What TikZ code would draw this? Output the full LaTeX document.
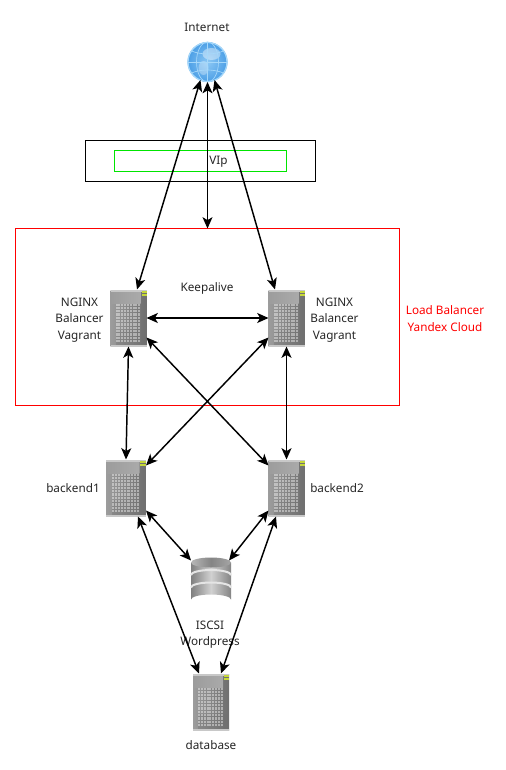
\documentclass[tikz,border=0pt]{standalone}
\usepackage{fontspec}
\setmainfont{Noto Sans}
\usetikzlibrary{arrows.meta,shadings}
\definecolor{srvdark}{HTML}{707070}
\definecolor{srvmid}{HTML}{9C9C9C}
\definecolor{srvlight}{HTML}{C8C8C8}
\definecolor{led}{HTML}{C6D83A}
\definecolor{globeblue}{HTML}{4C9FE6}
\definecolor{globelight}{HTML}{A6D8FA}
\tikzset{
  lbl/.style={font=\fontsize{8.8pt}{12.2pt}\selectfont,align=center,inner sep=0pt,text=black!85},
  redlbl/.style={lbl,text=red},
  srv/.style={minimum width=36*0.75pt,minimum height=57*0.75pt,inner sep=0pt,outer sep=0pt},
  srvwide/.style={srv,minimum width=40*0.75pt},
  dbicon/.style={minimum width=40*0.75pt,minimum height=47*0.75pt,inner sep=0pt,outer sep=0pt},
  globeicon/.style={circle,minimum size=40*0.75pt,inner sep=0pt,outer sep=0pt},
  conn/.style={{Stealth[length=8.5pt,width=7.5pt,inset=2.2pt]}-{Stealth[length=8.5pt,width=7.5pt,inset=2.2pt]},line width=1.1pt,black},
  thinconn/.style={conn,line width=0.75pt},
  outerbox/.style={draw=black,line width=0.75pt},
  greenbox/.style={draw=green!90!black,line width=0.75pt},
  redbox/.style={draw=red,line width=0.75pt}
}
% server artwork, drawn around a named node; #2 = horizontal scale
\newcommand{\serverart}[2]{%
  \begin{scope}[shift={(#1.center)},xscale=#2]
    \shade[left color=srvmid,right color=srvdark] (-18,-28) rectangle (18,28);
    \shade[left color=srvmid,right color=srvlight!85!black] (-18,-27) rectangle (12,-15);
    \fill[srvlight] (-18,-28.5) rectangle (18,-26);
    \fill[srvdark,opacity=.35] (12,-26) rectangle (18,28);
    \fill[srvdark,opacity=.35] (-13,12) rectangle (18,28);
    \fill[srvlight] (-18,27) rectangle (18,28.5);
    \foreach \cx in {0,...,8}{\foreach \cy in {0,...,11}{
      \fill[white,opacity=.42] (-13+\cx*2.85,-14.5+\cy*3.3) rectangle ++(2,2.3);}}
    \fill[led] (13,-27) rectangle (18,-25.5);
    \fill[led] (13,-24) rectangle (18,-22.5);
  \end{scope}}
\newcommand{\dbart}[1]{%
  \begin{scope}[shift={(#1.center)}]
    \shade[left color=black!50,right color=black!48,middle color=black!18]
      (-20,-18.5) -- (-20,18.5) arc[x radius=20,y radius=5,start angle=180,end angle=360] -- (20,-18.5) -- cycle;
    \foreach \yy in {-6,6.5}{
      \draw[white!90!black,line width=1.5pt] (-20,\yy) arc[x radius=20,y radius=5,start angle=180,end angle=360];}
    \shade[left color=black!28,right color=black!35,middle color=black!48]
      (0,-18.5) ellipse[x radius=20,y radius=5];
  \end{scope}}
\newcommand{\globeart}[1]{%
  \begin{scope}[shift={(#1.center)}]
    \shade[inner color=globelight!70!globeblue,outer color=globeblue] (0,0) circle[radius=20];
    \fill[white,opacity=.4] (4,-8) ellipse[x radius=9,y radius=6];
    \fill[white,opacity=.3] (-4,6) ellipse[x radius=5,y radius=7];
    \draw[globelight,line width=0.9pt] (0,0) circle[radius=19.5];
    \draw[globelight,line width=0.5pt] (-20,0) -- (20,0) (0,-20) -- (0,20);
    \draw[globelight,line width=0.5pt] (0,0) ellipse[x radius=11,y radius=20];
    \draw[globelight,line width=0.5pt] (-16,-11) .. controls (-6,-7) and (6,-7) .. (16,-11);
    \draw[globelight,line width=0.5pt] (-16,11) .. controls (-6,7) and (6,7) .. (16,11);
  \end{scope}}
\begin{document}
\begin{tikzpicture}[x=0.75pt,y=-0.75pt]
  \useasboundingbox[fill=white] (0,0) rectangle (506,770);

  % frames
  \draw[outerbox] (85.5,140.5) rectangle (315.5,181.5);
  \draw[greenbox] (114.5,150.5) rectangle (286.5,171.5);
  \node[minimum width=384*0.75pt,minimum height=177*0.75pt,inner sep=0pt,outer sep=0pt,redbox] (lb) at (207.5,317) {};

  % icons
  \node[globeicon] (inet) at (207.5,62) {};
  \node[srv] (n1) at (128.5,318) {};
  \node[srv] (n2) at (286.5,318) {};
  \node[srvwide] (b1) at (126,488) {};
  \node[srv] (b2) at (286.5,488) {};
  \node[dbicon] (iscsi) at (211,581) {};
  \node[srv] (db) at (211,702) {};
  \globeart{inet}
  \serverart{n1}{1}
  \serverart{n2}{1}
  \serverart{b1}{1.11}
  \serverart{b2}{1}
  \dbart{iscsi}
  \serverart{db}{1}

  % labels
  \node[lbl] (tinet) at (207,27.5) {Internet};
  \node[lbl] (tvip) at (218.5,162) {VIp};
  \node[lbl] (tkeep) at (207,288) {Keepalive};
  \node[lbl] (tn1) at (79.5,320) {NGINX\\Balancer\\Vagrant};
  \node[lbl] (tn2) at (334.5,320) {NGINX\\Balancer\\Vagrant};
  \node[redlbl] (tlb) at (445,318.5) {Load Balancer\\Yandex Cloud};
  \node[lbl] (tb1) at (73,488) {backend1};
  \node[lbl] (tb2) at (337,488) {backend2};
  \node[lbl] (tiscsi) at (210,635) {ISCSI\\Wordpress};
  \node[lbl] (tdb) at (211,745) {database};

  % connectors
  \draw[conn] ([xshift=-7*0.75pt,yshift=2*0.75pt]inet.south) -- ([xshift=8.5*0.75pt]n1.north);
  \draw[conn] ([xshift=7*0.75pt,yshift=2*0.75pt]inet.south) -- ([xshift=-11.5*0.75pt]n2.north);
  \draw[thinconn] (inet.south) -- (inet.south |- lb.north);
  \draw[conn] (n1.east) -- (n2.west);
  \draw[conn] (n1.south) -- (b1.north);
  \draw[conn] (n2.south) -- (b2.north);
  \draw[conn] ([yshift=9*0.75pt]n1.south east) -- ([yshift=-6*0.75pt]b2.north west);
  \draw[conn] ([yshift=9*0.75pt]n2.south west) -- ([yshift=-6*0.75pt]b1.north east);
  \draw[conn] ([yshift=6*0.75pt]b1.south east) -- ([yshift=-3*0.75pt]iscsi.north west);
  \draw[conn] ([yshift=6*0.75pt]b2.south west) -- ([yshift=-3*0.75pt,xshift=-2*0.75pt]iscsi.north east);
  \draw[conn] ([xshift=12*0.75pt]b1.south) -- ([xshift=-12*0.75pt]db.north);
  \draw[conn] ([xshift=-10.5*0.75pt]b2.south) -- ([xshift=10*0.75pt]db.north);
\end{tikzpicture}
\end{document}
